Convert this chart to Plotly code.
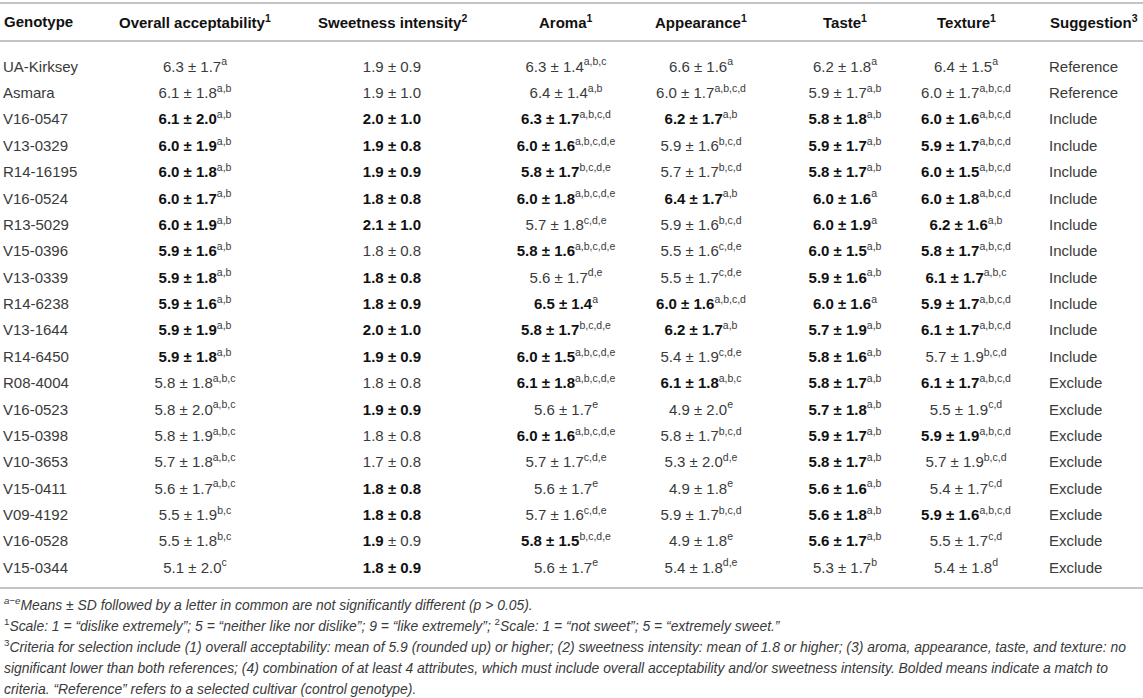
import plotly.graph_objects as go

# ---------------- data ----------------
genotypes = ["UA-Kirksey", "Asmara", "V16-0547", "V13-0329", "R14-16195", "V16-0524",
             "R13-5029", "V15-0396", "V13-0339", "R14-6238", "V13-1644", "R14-6450",
             "R08-4004", "V16-0523", "V15-0398", "V10-3653", "V15-0411", "V09-4192",
             "V16-0528", "V15-0344"]

overall_mean = [6.3, 6.1, 6.1, 6.0, 6.0, 6.0, 6.0, 5.9, 5.9, 5.9, 5.9, 5.9, 5.8, 5.8, 5.8, 5.7, 5.6, 5.5, 5.5, 5.1]
overall_sd = [1.7, 1.8, 2.0, 1.9, 1.8, 1.7, 1.9, 1.6, 1.8, 1.6, 1.9, 1.8, 1.8, 2.0, 1.9, 1.8, 1.7, 1.9, 1.8, 2.0]
overall_letters = ["a", "a,b", "a,b", "a,b", "a,b", "a,b", "a,b", "a,b", "a,b", "a,b", "a,b", "a,b",
                   "a,b,c", "a,b,c", "a,b,c", "a,b,c", "a,b,c", "b,c", "b,c", "c"]
overall_bold = ["", "", "B", "B", "B", "B", "B", "B", "B", "B", "B", "B", "", "", "", "", "", "", "", ""]

sweet_mean = [1.9, 1.9, 2.0, 1.9, 1.9, 1.8, 2.1, 1.8, 1.8, 1.8, 2.0, 1.9, 1.8, 1.9, 1.8, 1.7, 1.8, 1.8, 1.9, 1.8]
sweet_sd = [0.9, 1.0, 1.0, 0.8, 0.9, 0.8, 1.0, 0.8, 0.8, 0.9, 1.0, 0.9, 0.8, 0.9, 0.8, 0.8, 0.8, 0.8, 0.9, 0.9]
sweet_letters = [""] * 20
sweet_bold = ["", "", "B", "B", "B", "B", "B", "", "B", "B", "B", "B", "", "B", "", "", "B", "B", "M", "B"]

aroma_mean = [6.3, 6.4, 6.3, 6.0, 5.8, 6.0, 5.7, 5.8, 5.6, 6.5, 5.8, 6.0, 6.1, 5.6, 6.0, 5.7, 5.6, 5.7, 5.8, 5.6]
aroma_sd = [1.4, 1.4, 1.7, 1.6, 1.7, 1.8, 1.8, 1.6, 1.7, 1.4, 1.7, 1.5, 1.8, 1.7, 1.6, 1.7, 1.7, 1.6, 1.5, 1.7]
aroma_letters = ["a,b,c", "a,b", "a,b,c,d", "a,b,c,d,e", "b,c,d,e", "a,b,c,d,e", "c,d,e", "a,b,c,d,e",
                 "d,e", "a", "b,c,d,e", "a,b,c,d,e", "a,b,c,d,e", "e", "a,b,c,d,e", "c,d,e", "e",
                 "c,d,e", "b,c,d,e", "e"]
aroma_bold = ["", "", "B", "B", "B", "B", "", "B", "", "B", "B", "B", "B", "", "B", "", "", "", "B", ""]

appear_mean = [6.6, 6.0, 6.2, 5.9, 5.7, 6.4, 5.9, 5.5, 5.5, 6.0, 6.2, 5.4, 6.1, 4.9, 5.8, 5.3, 4.9, 5.9, 4.9, 5.4]
appear_sd = [1.6, 1.7, 1.7, 1.6, 1.7, 1.7, 1.6, 1.6, 1.7, 1.6, 1.7, 1.9, 1.8, 2.0, 1.7, 2.0, 1.8, 1.7, 1.8, 1.8]
appear_letters = ["a", "a,b,c,d", "a,b", "b,c,d", "b,c,d", "a,b", "b,c,d", "c,d,e", "c,d,e", "a,b,c,d",
                  "a,b", "c,d,e", "a,b,c", "e", "b,c,d", "d,e", "e", "b,c,d", "e", "d,e"]
appear_bold = ["", "", "B", "", "", "B", "", "", "", "B", "B", "", "B", "", "", "", "", "", "", ""]

taste_mean = [6.2, 5.9, 5.8, 5.9, 5.8, 6.0, 6.0, 6.0, 5.9, 6.0, 5.7, 5.8, 5.8, 5.7, 5.9, 5.8, 5.6, 5.6, 5.6, 5.3]
taste_sd = [1.8, 1.7, 1.8, 1.7, 1.7, 1.6, 1.9, 1.5, 1.6, 1.6, 1.9, 1.6, 1.7, 1.8, 1.7, 1.7, 1.6, 1.8, 1.7, 1.7]
taste_letters = ["a", "a,b", "a,b", "a,b", "a,b", "a", "a", "a,b", "a,b", "a", "a,b", "a,b", "a,b", "a,b",
                 "a,b", "a,b", "a,b", "a,b", "a,b", "b"]
taste_bold = ["", "", "B", "B", "B", "B", "B", "B", "B", "B", "B", "B", "B", "B", "B", "B", "B", "B", "B", ""]

texture_mean = [6.4, 6.0, 6.0, 5.9, 6.0, 6.0, 6.2, 5.8, 6.1, 5.9, 6.1, 5.7, 6.1, 5.5, 5.9, 5.7, 5.4, 5.9, 5.5, 5.4]
texture_sd = [1.5, 1.7, 1.6, 1.7, 1.5, 1.8, 1.6, 1.7, 1.7, 1.7, 1.7, 1.9, 1.7, 1.9, 1.9, 1.9, 1.7, 1.6, 1.7, 1.8]
texture_letters = ["a", "a,b,c,d", "a,b,c,d", "a,b,c,d", "a,b,c,d", "a,b,c,d", "a,b", "a,b,c,d", "a,b,c",
                   "a,b,c,d", "a,b,c,d", "b,c,d", "a,b,c,d", "c,d", "a,b,c,d", "b,c,d", "c,d",
                   "a,b,c,d", "c,d", "d"]
texture_bold = ["", "", "B", "B", "B", "B", "B", "B", "B", "B", "B", "", "B", "", "B", "", "", "B", "", ""]

suggestion = ["Reference", "Reference"] + ["Include"] * 10 + ["Exclude"] * 8

headers = ["Genotype", "Overall acceptability<sup>1</sup>", "Sweetness intensity<sup>2</sup>",
           "Aroma<sup>1</sup>", "Appearance<sup>1</sup>", "Taste<sup>1</sup>", "Texture<sup>1</sup>",
           "Suggestion<sup>3</sup>"]

footnotes = [
    "<sup><i>a\u2212e</i></sup><i>Means \u00b1 SD followed by a letter in common are not significantly different (p &gt; 0.05).</i>",
    "<sup>1</sup><i>Scale: 1 = \u201cdislike extremely\u201d; 5 = \u201cneither like nor dislike\u201d; 9 = \u201clike extremely\u201d; </i><sup>2</sup><i>Scale: 1 = \u201cnot sweet\u201d; 5 = \u201cextremely sweet.\u201d</i>",
    "<sup>3</sup><i>Criteria for selection include (1) overall acceptability: mean of 5.9 (rounded up) or higher; (2) sweetness intensity: mean of 1.8 or higher; (3) aroma, appearance, taste, and texture: no</i>",
    "<i>significant lower than both references; (4) combination of at least 4 attributes, which must include overall acceptability and/or sweetness intensity. Bolded means indicate a match to</i>",
    "<i>criteria. \u201cReference\u201d refers to a selected cultivar (control genotype).</i>",
]

# ---------------- layout constants ----------------
W, H = 1143, 698
FONT = "Liberation Sans, Arial, Helvetica, sans-serif"
TXT = "#3a3a3a"
BOLD = "#111111"
ROW0_PX, ROW_STEP = 68, 26.37          # centre of first body row, row pitch (px)
HEADER_PX = 21
RULES_PX = [3, 41, 588]
FOOT_PX = [604, 625, 646, 668, 689]
# column anchor (px) and alignment
COLS = [(3, "left"), (195, "center"), (392, "center"), (566, "center"),
        (701, "center"), (845, "center"), (966, "center"), (1049, "left")]


def cell(mean, sd, letters, bold):
    m, s = f"{mean:.1f}", f"{sd:.1f}"
    sup = f"<sup>{letters}</sup>" if letters else ""
    if bold == "B":
        return f"<b><span style='color:{BOLD}'>{m} \u00b1 {s}</span></b>{sup}"
    if bold == "M":
        return f"<b><span style='color:{BOLD}'>{m}</span></b> \u00b1 {s}{sup}"
    return f"{m} \u00b1 {s}{sup}"


columns = [
    genotypes,
    [cell(*a) for a in zip(overall_mean, overall_sd, overall_letters, overall_bold)],
    [cell(*a) for a in zip(sweet_mean, sweet_sd, sweet_letters, sweet_bold)],
    [cell(*a) for a in zip(aroma_mean, aroma_sd, aroma_letters, aroma_bold)],
    [cell(*a) for a in zip(appear_mean, appear_sd, appear_letters, appear_bold)],
    [cell(*a) for a in zip(taste_mean, taste_sd, taste_letters, taste_bold)],
    [cell(*a) for a in zip(texture_mean, texture_sd, texture_letters, texture_bold)],
    suggestion,
]

fig = go.Figure()
for (cx, align), texts in zip(COLS, columns):
    fig.add_trace(go.Scatter(
        x=[cx] * len(genotypes), y=genotypes, mode="text", text=texts,
        textposition="middle right" if align == "left" else "middle center",
        textfont=dict(family=FONT, size=15, color=TXT),
        hoverinfo="skip", showlegend=False, cliponaxis=False))

n = len(genotypes)
y_top = -ROW0_PX / ROW_STEP
y_bot = (n - 1) + (H - (ROW0_PX + (n - 1) * ROW_STEP)) / ROW_STEP

annotations = []
for (cx, align), h in zip(COLS, headers):
    annotations.append(dict(
        x=cx, xref="x", y=1 - HEADER_PX / H, yref="paper",
        xanchor="left" if align == "left" else "center", yanchor="middle",
        text=f"<b>{h}</b>", showarrow=False, borderpad=0,
        font=dict(family=FONT, size=15, color=BOLD)))
for py, t in zip(FOOT_PX, footnotes):
    annotations.append(dict(
        x=3 / W, xref="paper", y=1 - py / H, yref="paper",
        xanchor="left", yanchor="middle", align="left", text=t,
        showarrow=False, borderpad=0,
        font=dict(family=FONT, size=13.9, color=TXT)))

shapes = [dict(type="line", xref="paper", yref="paper", x0=0, x1=1,
               y0=1 - py / H, y1=1 - py / H, layer="above",
               line=dict(color="#c4c4c4", width=2)) for py in RULES_PX]

fig.update_layout(
    width=W, height=H, autosize=False,
    margin=dict(l=0, r=0, t=0, b=0, pad=0),
    paper_bgcolor="white", plot_bgcolor="white",
    xaxis=dict(range=[0, W], visible=False, fixedrange=True),
    yaxis=dict(type="category", categoryorder="array", categoryarray=genotypes,
               range=[y_bot, y_top], visible=False, fixedrange=True),
    annotations=annotations, shapes=shapes,
)

fig.write_html(
    "out.html", config={"displayModeBar": False},
    post_script="document.body.style.margin='0';document.body.style.overflow='hidden';",
)
